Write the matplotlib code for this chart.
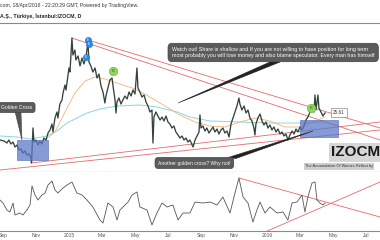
import matplotlib
matplotlib.use("Agg")
import matplotlib.pyplot as plt
from matplotlib.patches import Rectangle, Polygon

plt.rcParams['font.family'] = ['Liberation Sans', 'DejaVu Sans']

# months counted from 1 Sep 2014, daily close
month = [-0.18, 0.06, 0.24, 0.36, 0.48, 0.61, 0.73, 0.85, 0.97, 1.09, 1.21, 1.33, 1.45, 1.58,
         1.70, 1.73, 1.76, 1.82, 1.88, 2.0, 2.12, 2.24, 2.36, 2.48, 2.61, 2.73, 2.85, 2.97,
         3.03, 3.15, 3.27, 3.33, 3.45, 3.58, 3.64, 3.76, 3.82, 3.94, 4.0, 4.06, 4.18, 4.24,
         4.36, 4.42, 4.55, 4.67, 4.79, 4.91, 5.03, 5.15, 5.21, 5.33, 5.45, 5.58, 5.70, 5.82,
         5.94, 6.06, 6.18, 6.24, 6.36, 6.48, 6.61, 6.67, 6.79, 6.85, 6.91, 7.03, 7.15, 7.27,
         7.39, 7.52, 7.64, 7.76, 7.88, 8.0, 8.12, 8.18, 8.30, 8.42, 8.55, 8.67, 8.79, 8.91,
         9.03, 9.09, 9.15, 9.27, 9.39, 9.52, 9.64, 9.76, 9.88, 10.0, 10.12, 10.24, 10.36,
         10.48, 10.61, 10.73, 10.85, 10.97, 11.09, 11.21, 11.33, 11.52, 11.64, 11.76, 11.88,
         11.94, 12.0, 12.12, 12.24, 12.36, 12.48, 12.61, 12.73, 12.85, 12.97, 13.09, 13.21,
         13.33, 13.45, 13.58, 13.70, 13.82, 13.94, 14.06, 14.18, 14.30, 14.36, 14.48, 14.61,
         14.73, 14.85, 14.97, 15.09, 15.21, 15.27, 15.33, 15.45, 15.58, 15.70, 15.82, 15.94,
         16.06, 16.18, 16.30, 16.42, 16.55, 16.67, 16.79, 16.91, 17.03, 17.15, 17.27, 17.39,
         17.52, 17.64, 17.76, 17.88, 18.0, 18.12, 18.24, 18.36, 18.48, 18.61, 18.73, 18.85,
         18.91, 18.97, 19.09, 19.15, 19.27, 19.39, 19.52]
close = [20.2, 20.0, 19.6, 20.2, 19.4, 19.8, 18.8, 19.2, 18.2, 18.4, 17.6, 18.0, 17.2, 17.4,
         16.6, 15.6, 17.8, 22.6, 19.8, 20.2, 19.2, 20.0, 19.4, 20.6, 20.2, 21.6, 22.2, 23.4,
         21.8, 24.6, 25.8, 24.6, 27.4, 28.2, 29.6, 31.2, 30.2, 33.2, 34.6, 33.8, 40.6, 37.2,
         38.2, 36.2, 37.0, 35.0, 36.6, 35.4, 36.8, 39.8, 35.8, 35.0, 33.8, 34.6, 32.6, 33.4,
         31.0, 29.8, 27.6, 29.0, 30.6, 32.2, 32.6, 31.0, 28.2, 25.6, 27.8, 28.6, 27.4, 28.2,
         29.0, 28.4, 29.8, 29.0, 30.2, 29.4, 34.6, 30.6, 29.8, 28.8, 29.2, 27.8, 27.0, 25.8,
         26.2, 19.6, 24.8, 25.8, 25.0, 24.2, 24.8, 24.0, 25.0, 23.8, 23.4, 22.6, 23.0,
         21.8, 21.2, 20.6, 21.0, 20.2, 20.6, 19.8, 20.2, 18.8, 20.2, 21.0, 21.8,
         25.2, 22.6, 23.0, 22.0, 22.6, 21.6, 22.2, 22.8, 21.8, 22.4, 21.4, 22.2,
         22.6, 21.6, 22.0, 20.8, 23.4, 24.6, 25.8, 27.0, 28.6, 27.4, 26.2, 27.0,
         25.6, 26.2, 24.6, 24.0, 22.6, 21.2, 23.4, 24.6, 25.4, 24.0, 23.2, 23.8,
         22.6, 23.2, 22.2, 22.8, 21.8, 22.4, 21.4, 21.8, 21.0, 21.4, 20.2, 21.2,
         22.0, 21.4, 22.4, 21.8, 22.8, 22.2, 23.0, 24.2, 24.8, 25.8, 26.6, 25.8,
         29.2, 26.2, 29.2, 26.6, 25.8, 25.0, 25.61]

ma50_month = [2.55, 3.15, 3.76, 4.36, 4.97, 5.58, 6.18, 7.09, 8.0, 8.91, 9.82, 10.73, 11.64,
              12.55, 13.45, 14.36, 15.27, 16.18, 17.09, 18.0, 18.91, 19.52]
ma50 = [20.2, 21.8, 25.8, 29.6, 32.0, 32.8, 32.4, 31.4, 30.4, 28.8, 27.0, 25.2, 23.8,
        23.0, 22.8, 23.8, 24.6, 24.0, 22.8, 22.8, 24.0, 24.8]

ma200_month = [-0.18, 0.85, 1.64, 2.67, 3.27, 3.88, 5.09, 5.88, 6.91, 8.30, 9.33, 10.55, 11.33,
               12.55, 14.36, 16.18, 18.0, 19.52]
ma200 = [21.0, 20.8, 20.4, 21.0, 22.0, 23.6, 25.6, 26.4, 27.0, 27.2, 26.8, 25.8, 24.8,
         24.0, 23.8, 23.6, 23.6, 23.8]

osc_month = [-0.18, 0.0, 0.24, 0.42, 0.61, 0.73, 1.03, 1.21, 1.45, 1.64, 1.76, 1.94, 2.12, 2.36,
             2.55, 2.73, 2.97, 3.15, 3.33, 3.64, 3.88, 4.18, 4.48, 4.79, 5.09, 5.45, 5.88, 6.06,
             6.36, 6.67, 6.91, 7.09, 7.58, 7.82, 8.12, 8.30, 8.73, 9.03, 9.33, 9.64, 9.94, 10.30,
             10.61, 10.91, 11.33, 11.64, 12.12, 12.55, 12.97, 13.33, 13.76, 14.06, 14.30, 14.55,
             14.85, 15.15, 15.39, 15.58, 15.88, 16.18, 16.61, 16.97, 17.27, 17.52, 17.82, 18.12,
             18.30, 18.48, 18.73, 18.91, 19.03, 19.21, 19.39, 19.52]
osc = [31, 28, 21, 19, 28, 16, 18, 16, 21, 26, 45, 36, 31, 36, 38, 46, 50, 41, 38, 43, 46, 49,
       38, 36, 31, 24, 11, 8, 28, 24, 11, 21, 29, 36, 39, 24, 21, 6, 18, 28, 24, 26, 11, 18, 18,
       29, 28, 29, 26, 34, 18, 38, 53, 34, 28, 9, 21, 29, 18, 24, 18, 19, 11, 28, 29, 36, 19, 34,
       48, 49, 31, 28, 26, 28]

tick_month = [0, 2, 4, 6, 8, 10, 12, 14, 16, 18, 20, 22]
tick_label = ["Sep", "Nov", "2015", "Mar", "May", "Jul", "Sep", "Nov", "2016", "Mar", "May", "Jul"]

# trend lines: (month0, price0, month1, price1)
price_trends = [(4.18, 40.6, 22.85, 20.2), (5.15, 40.2, 22.85, 22.6),
                (-0.18, 14.2, 22.85, 22.2), (1.70, 15.6, 22.85, 23.8)]
osc_trends = [(14.30, 53, 22.85, 14), (15.88, -1, 22.85, 49)]

buy_month = [6.67, 18.67]
buy_price = [34.0, 26.6]
event_month = [5.15, 5.21, 5.03]
event_price = [40.2, 39.4, 36.8]
last_price = 25.61

fig = plt.figure(figsize=(3.8, 2.4), dpi=100)
fig.patch.set_facecolor('white')

fig.text(0.0, 1 - 6 / 240, "com, 18/Apr/2016 - 22:20:29 GMT, Powered by TradingView.",
         fontsize=3.7, color='#333333', va='center', ha='left')
fig.text(0.0, 1 - 16 / 240, "A.Ş., Türkiye, İstanbul:IZOCM, D",
         fontsize=3.8, color='#222222', fontweight='bold', va='center', ha='left')
fig.add_artist(plt.Line2D([0, 1], [1 - 23 / 240] * 2, color='#8a8a8a', lw=0.8))

ax = fig.add_axes([0, 68 / 240, 1, 148 / 240])
ax.set_xlim(-0.18, 22.85)
ax.set_ylim(13.8, 43.4)
for s in ['top', 'left', 'right']:
    ax.spines[s].set_visible(False)
ax.spines['bottom'].set_color('#8a8a8a')
ax.spines['bottom'].set_linewidth(0.8)
ax.set_xticks([])
ax.set_yticks([])

for m0, p0, m1, p1 in price_trends:
    ax.plot([m0, m1], [p0, p1], color='#e46a6a', lw=0.6, zorder=2)

ax.plot(ma200_month, ma200, color='#86d8e3', lw=0.7, zorder=3)
ax.plot(ma50_month, ma50, color='#f4b27a', lw=0.6, zorder=3)
ax.plot(month, close, color='#34443b', lw=0.95, zorder=4)

ax.add_patch(Rectangle((0.85, 16.2), 1.88, 4.0, fc='#5d78c8', ec='#4a62b0', lw=0.5, alpha=0.75, zorder=5))
ax.add_patch(Rectangle((18.0, 20.8), 2.3, 3.4, fc='#5d78c8', ec='#4a62b0', lw=0.5, alpha=0.75, zorder=5))

# callout pointers
ax.add_patch(Polygon([(16.18, 35.8), (16.79, 35.8), (10.61, 27.6)], closed=True,
                     fc='#222222', ec='#222222', lw=0.4, zorder=6))
ax.add_patch(Polygon([(13.64, 16.7), (14.12, 16.5), (18.79, 22.0)], closed=True,
                     fc='#222222', ec='#222222', lw=0.4, zorder=6))
ax.add_patch(Polygon([(0.73, 25.9), (1.09, 25.9), (1.15, 20.2)], closed=True,
                     fc='#555555', ec='#444444', lw=0.4, zorder=6))

ax.text(10.24, 37.7, "Watch out! Share is shallow and If you are not willing to have position for long term\n"
        "most probably you will lose money and also blame speculator. Every man has himself",
        fontsize=3.75, color='white', ha='left', va='center', linespacing=1.15, zorder=7,
        bbox=dict(boxstyle='round,pad=0.75,rounding_size=0.8', fc='#5b5b5b', ec='#444444', lw=0.5))
ax.text(0.85, 26.7, "Golden Cross", fontsize=3.6, color='white', ha='center', va='center', zorder=7,
        bbox=dict(boxstyle='round,pad=0.5', fc='#5b5b5b', ec='#444444', lw=0.5))
ax.text(11.6, 15.6, "Another golden cross? Why not!", fontsize=3.6, color='white', ha='center',
        va='center', zorder=7,
        bbox=dict(boxstyle='round,pad=0.6', fc='#5b5b5b', ec='#444444', lw=0.5))

ax.plot(buy_month, buy_price, 'o', ms=6, mfc='#8fd45e', mec='#6cbf3c', mew=0.5, zorder=8)
for m, p in zip(buy_month, buy_price):
    ax.text(m, p, 'B', fontsize=2.8, color='#2e6b12', ha='center', va='center', zorder=9)
ax.plot(event_month, event_price, 'o', ms=4.5, mfc='#2b8be6', mec='#1e6fc0', mew=0.4, zorder=8)
for m, p in zip(event_month, event_price):
    ax.text(m, p, 'E', fontsize=2.2, color='white', ha='center', va='center', zorder=9)

ax.text(20.36, 25.7, f"{last_price:.2f}", fontsize=3.3, color='#333333', ha='center', va='center',
        zorder=9, bbox=dict(boxstyle='square,pad=0.5', fc='white', ec='#8a8a8a', lw=0.5))

ax.text(21.39, 17.7, "IZOCM", fontsize=11, fontweight='bold', color='#1a1a1a', ha='center',
        va='center', zorder=9, bbox=dict(boxstyle='square,pad=0.15', fc='#d6d6d6', ec='none'))
ax.text(20.36, 14.9, "The Accumulation Of Worries Reflect by", fontsize=2.8, color='#333333',
        ha='center', va='center', zorder=9,
        bbox=dict(boxstyle='square,pad=0.3', fc='#cfcfcf', ec='none'))

ax2 = fig.add_axes([0, 9 / 240, 1, 59 / 240])
ax2.set_xlim(-0.18, 22.85)
ax2.set_ylim(0, 59)
for s in ['top', 'left', 'right']:
    ax2.spines[s].set_visible(False)
ax2.spines['bottom'].set_color('#8a8a8a')
ax2.spines['bottom'].set_linewidth(0.8)
ax2.set_yticks([])
for m0, v0, m1, v1 in osc_trends:
    ax2.plot([m0, m1], [v0, v1], color='#e46a6a', lw=0.6)
ax2.plot(osc_month, osc, color='#555555', lw=0.6)
ax2.set_xticks(tick_month)
ax2.set_xticklabels(tick_label)
ax2.tick_params(axis='x', length=0, pad=1.5, labelsize=3.6, colors='#555555')

fig.savefig("out.png", dpi=100)
